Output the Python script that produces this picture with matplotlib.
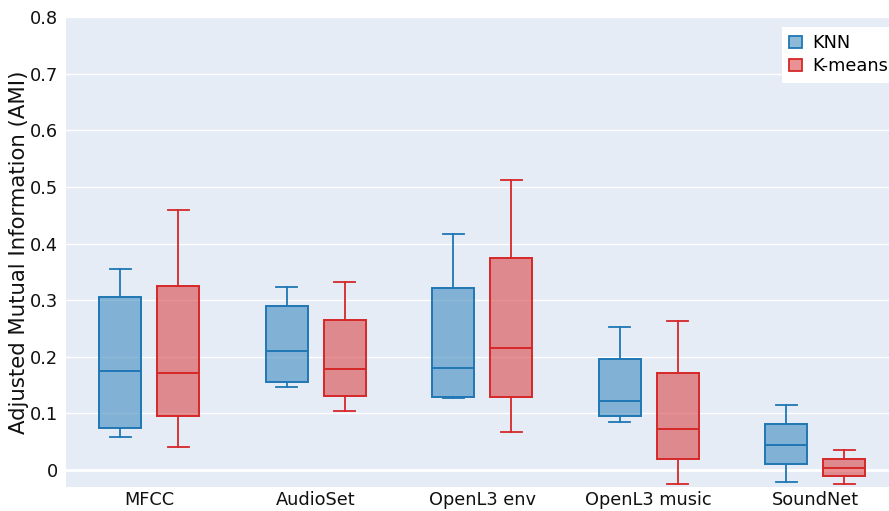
import matplotlib
matplotlib.use("Agg")
import matplotlib.pyplot as plt
from matplotlib.patches import Patch
import numpy as np

# AMI box statistics per feature set
features = ["MFCC", "AudioSet", "OpenL3 env", "OpenL3 music", "SoundNet"]

knn_low = [0.058, 0.147, 0.127, 0.085, -0.021]
knn_q1 = [0.074, 0.155, 0.129, 0.095, 0.011]
knn_med = [0.175, 0.210, 0.180, 0.122, 0.045]
knn_q3 = [0.306, 0.290, 0.322, 0.196, 0.081]
knn_high = [0.355, 0.323, 0.417, 0.253, 0.114]

km_low = [0.041, 0.104, 0.067, -0.025, -0.024]
km_q1 = [0.095, 0.131, 0.129, 0.020, -0.011]
km_med = [0.171, 0.178, 0.216, 0.073, 0.003]
km_q3 = [0.325, 0.265, 0.375, 0.172, 0.019]
km_high = [0.459, 0.332, 0.512, 0.263, 0.035]

blue = "#1f77b4"
red = "#d62728"


def make_stats(low, q1, med, q3, high):
    return [dict(whislo=a, q1=b, med=c, q3=d, whishi=e, fliers=[])
            for a, b, c, d, e in zip(low, q1, med, q3, high)]


fig = plt.figure(figsize=(8.89, 5.11), dpi=100)
# plot area runs a little past the right edge of the canvas
ax = fig.add_axes([66 / 889, 1 - 487 / 511, 832.5 / 889, 470 / 511])
ax.set_facecolor("#e5ecf6")

x = np.arange(len(features))
groups = [(make_stats(knn_low, knn_q1, knn_med, knn_q3, knn_high), x - 0.174, blue),
          (make_stats(km_low, km_q1, km_med, km_q3, km_high), x + 0.174, red)]

for stats, pos, col in groups:
    ax.bxp(stats, positions=pos, widths=0.252, patch_artist=True, showfliers=False,
           boxprops=dict(facecolor=col + "80", edgecolor=col, linewidth=1.4),
           medianprops=dict(color=col, linewidth=1.4),
           whiskerprops=dict(color=col, linewidth=1.3),
           capprops=dict(color=col, linewidth=1.3),
           capwidths=0.125, zorder=3)

ax.set_xlim(-0.5, len(features) - 0.5)
ax.set_ylim(-0.03, 0.8)
ax.set_xticks(x)
ax.set_xticklabels(features)
ax.set_yticks(np.arange(0, 0.81, 0.1))
ax.set_yticklabels(["0"] + ["%.1f" % v for v in np.arange(0.1, 0.81, 0.1)])
ax.tick_params(axis="x", length=0, labelsize=12.8, colors="#111111", pad=3)
ax.tick_params(axis="y", length=0, labelsize=12.8, colors="#111111", pad=6)
ax.grid(axis="y", color="white", linewidth=1)
ax.axhline(0, color="white", linewidth=2, zorder=1)
ax.set_axisbelow(True)
for s in ax.spines.values():
    s.set_visible(False)
ax.set_ylabel("Adjusted Mutual Information (AMI)", fontsize=15.3, color="#111111")
ax.yaxis.set_label_coords(-0.045, 0.5)

handles = [Patch(facecolor=blue + "80", edgecolor=blue, linewidth=1.3, label="KNN"),
           Patch(facecolor=red + "80", edgecolor=red, linewidth=1.3, label="K-means")]
leg = fig.legend(handles=handles, loc="upper left", bbox_to_anchor=(782 / 889, 1 - 27 / 511),
                 bbox_transform=fig.transFigure,
                 fontsize=12.8, frameon=True, fancybox=False, handlelength=0.7,
                 handleheight=0.7, handletextpad=0.6, borderpad=0.4, labelspacing=0.3,
                 borderaxespad=0)
leg.get_frame().set_linewidth(0)
leg.get_frame().set_facecolor("white")
leg.get_frame().set_alpha(1)

fig.savefig("out.png", dpi=100)
